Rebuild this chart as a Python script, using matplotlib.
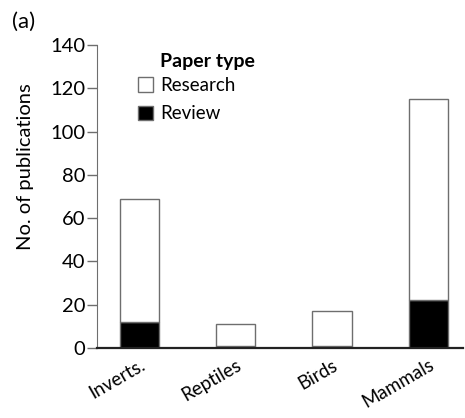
import matplotlib.pyplot as plt
from matplotlib.transforms import ScaledTranslation
import numpy as np

taxa = ['Inverts.', 'Reptiles', 'Birds', 'Mammals']
total_papers = [69, 11, 17, 115]
review_papers = [12, 1, 1, 22]

plt.rcParams['font.family'] = ['Lato', 'DejaVu Sans']

fig = plt.figure(figsize=(4.65, 4.18), dpi=100)
ax = fig.add_axes([0.2086, 0.1675, 0.787, 0.7245])

x = np.arange(len(taxa))
research_papers = [t - r for t, r in zip(total_papers, review_papers)]
edge = '#6e6e6e'

rev = ax.bar(x, review_papers, width=0.41, color='black', edgecolor=edge, linewidth=1.0, label='Review')
res = ax.bar(x, research_papers, bottom=review_papers, width=0.41, color='white',
             edgecolor=edge, linewidth=1.0, label='Research')

ax.set_xlim(-0.44, 3.36)
ax.set_ylim(0, 140)
ax.set_yticks(range(0, 141, 20))
ax.set_xticks(x)
ax.set_xticklabels(taxa, rotation=30, ha='right', va='top', rotation_mode='anchor', fontsize=13.5)
shift = ScaledTranslation(0.13, 0, fig.dpi_scale_trans)
for lab in ax.get_xticklabels():
    lab.set_transform(lab.get_transform() + shift)
ax.tick_params(axis='y', labelsize=14.5, length=7.5, color=edge, width=1.0, pad=1)
ax.tick_params(axis='x', length=0, pad=6)
ax.set_ylabel('No. of publications', fontsize=14.5)
ax.yaxis.set_label_coords(-0.172, 0.60)

for s in ['top', 'right']:
    ax.spines[s].set_visible(False)
ax.spines['left'].set_color(edge)
ax.spines['bottom'].set_color('#222222')
ax.spines['bottom'].set_linewidth(1.6)

# legend title sits over the labels, not the swatches
fig.text(160 / 465, 1 - 53 / 418, 'Paper type', fontsize=14, fontweight='bold', va='top')
ax.legend(handles=[res, rev], loc='upper left',
          bbox_to_anchor=(138 / 465, 1 - 77 / 418), bbox_transform=fig.transFigure,
          frameon=False, fontsize=13.5, borderpad=0, borderaxespad=0,
          handlelength=0.8, handleheight=0.8, handletextpad=0.4, labelspacing=0.6)

fig.text(12 / 465, 1 - 12 / 418, '(a)', fontsize=16, va='top')

fig.savefig('out.png', dpi=100)
